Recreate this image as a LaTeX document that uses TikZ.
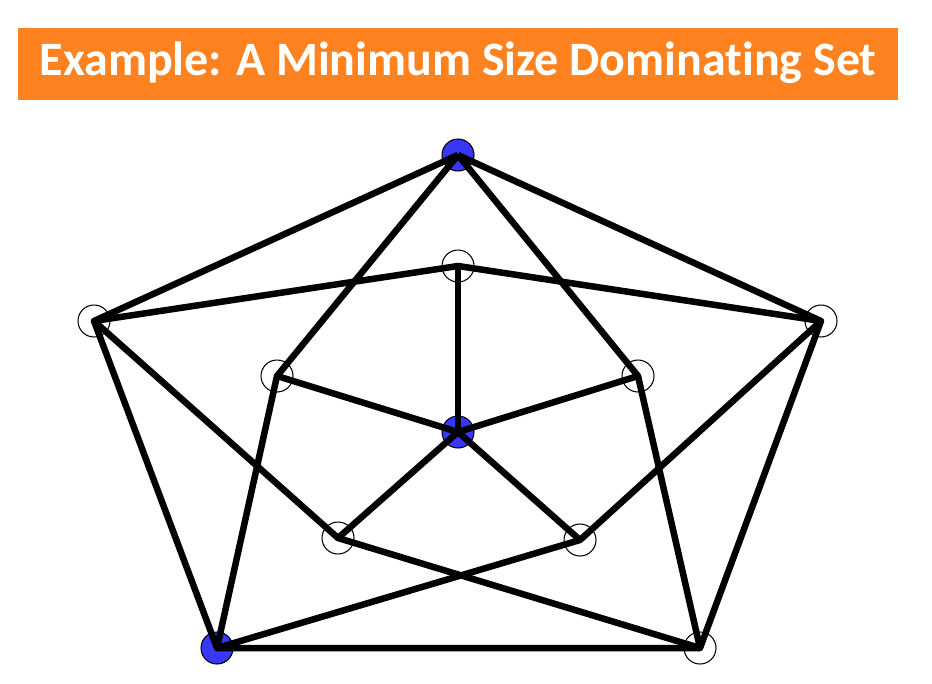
\documentclass[tikz,border=0pt]{standalone}
\usepackage{fontspec}
\setsansfont[Ligatures=NoCommon]{Carlito}
\definecolor{titleorange}{RGB}{255,130,32}
\definecolor{domblue}{RGB}{55,55,245}
\tikzset{
	vertex/.style={draw, circle, line width=0.6pt, minimum size=0.64cm, inner sep=0pt, fill=white},
	dom/.style={vertex, fill=domblue},
	edge/.style={line width=3.7pt, line join=round}
}

\begin{document}
\begin{tikzpicture}[x=0.02cm, y=-0.02cm]
	\useasboundingbox (0,0) rectangle (932,683);
	\fill[titleorange] (18,28) rectangle (898,100);
	\node[text=white, font=\sffamily\bfseries\fontsize{27.3}{32}\selectfont] at (458,63) (title) {Example: A Minimum Size Dominating Set};

	% outer five
	\node[dom] at (458,155) (top) {};
	\node[vertex] at (94,321) (left) {};
	\node[vertex] at (821,321) (right) {};
	\node[dom] at (217,648) (bot-left) {};
	\node[vertex] at (700,648) (bot-right) {};
	% inner five
	\node[vertex] at (458,266) (in-top) {};
	\node[vertex] at (277,376) (in-left) {};
	\node[vertex] at (638,376) (in-right) {};
	\node[vertex] at (338,538) (in-bot-left) {};
	\node[vertex] at (580,540) (in-bot-right) {};
	% hub
	\node[dom] at (458,432) (hub) {};

	\draw[edge] (top.center) -- (left.center) -- (bot-left.center) -- (bot-right.center) -- (right.center) -- (top.center);
	\draw[edge] (left.center) -- (in-top.center) -- (right.center);
	\draw[edge] (top.center) -- (in-left.center) -- (bot-left.center);
	\draw[edge] (top.center) -- (in-right.center) -- (bot-right.center);
	\draw[edge] (left.center) -- (in-bot-left.center) -- (bot-right.center);
	\draw[edge] (right.center) -- (in-bot-right.center) -- (bot-left.center);
	\draw[edge] (hub.center) -- (in-top.center);
	\draw[edge] (hub.center) -- (in-left.center);
	\draw[edge] (hub.center) -- (in-right.center);
	\draw[edge] (hub.center) -- (in-bot-left.center);
	\draw[edge] (hub.center) -- (in-bot-right.center);
\end{tikzpicture}
\end{document}
